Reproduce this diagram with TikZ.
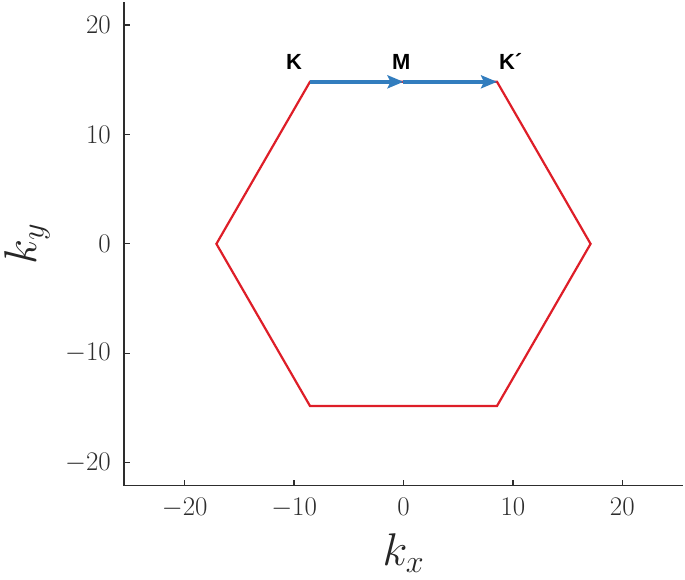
\RequirePackage{fix-cm}
\documentclass[tikz,border=0pt]{standalone}
\usepackage{fontspec}
\newfontfamily\labfont{Liberation Sans}
\usetikzlibrary{arrows.meta}
\definecolor{axgray}{RGB}{45,45,45}
\definecolor{hexred}{RGB}{222,30,40}
\definecolor{pathblue}{RGB}{50,125,190}
\tikzset{
  axisline/.style={draw=axgray, line width=1.6bp},
  tickmark/.style={draw=axgray, line width=1.2bp},
  ticklab/.style={text=axgray, font=\fontsize{27}{30}\selectfont, inner sep=0pt},
  axislab/.style={text=black!85, font=\fontsize{46}{50}\selectfont, inner sep=0pt},
  hexline/.style={draw=hexred, line width=2.2bp, line join=miter},
  pathline/.style={draw=pathblue, line width=4bp, -{Stealth[length=16bp,width=13bp,inset=3bp]}},
  ptlab/.style={font=\labfont\bfseries\fontsize{22}{24}\selectfont, inner sep=0pt, anchor=base}
}
\begin{document}
\begin{tikzpicture}[x=10.94bp,y=10.94bp]
\useasboundingbox (-36.88,-30.64) rectangle (25.73,22.29);
% axes
\coordinate (top) at (-25.55,22.1);
\coordinate (corner) at (-25.55,-22.1);
\coordinate (right) at (25.55,-22.1);
\draw[axisline] (top) -- (corner) -- (right);
% y ticks
\foreach \v in {-20,-10,0,10,20}{
  \coordinate (yt\v) at (-25.55,\v);
  \draw[tickmark] (yt\v) -- ++(6bp,0);
  \node[ticklab, anchor=east] (ylab\v) at ([xshift=-13bp]yt\v) {$\v$};
}
% x ticks
\foreach \v in {-20,-10,0,10,20}{
  \coordinate (xt\v) at (\v,-22.1);
  \draw[tickmark] (xt\v) -- ++(0,6bp);
  \node[ticklab, anchor=north] (xlab\v) at ([yshift=-12bp]xt\v) {$\v$};
}
% axis labels
\node[axislab] (kx) at (0,-28.3) {$k_x$};
\node[axislab, rotate=90] (ky) at (-34.4,0) {$k_y$};
% hexagon
\coordinate (A) at (17.1,0);
\coordinate (B) at (8.55,14.81);
\coordinate (C) at (-8.55,14.81);
\coordinate (D) at (-17.1,0);
\coordinate (E) at (-8.55,-14.81);
\coordinate (F) at (8.55,-14.81);
\coordinate (Mp) at (0,14.81);
\draw[hexline] (A) -- (B) -- (C) -- (D) -- (E) -- (F) -- cycle;
% path K -> M -> K'
\draw[pathline] (C) -- (Mp);
\draw[pathline] (Mp) -- (B);
% labels
\node[ptlab] (Klab) at (-10.0,15.95) {K};
\node[ptlab] (Mlab) at (-0.2,15.95) {M};
\node[ptlab] (Kplab) at (9.8,15.95) {K´};
\end{tikzpicture}
\end{document}
